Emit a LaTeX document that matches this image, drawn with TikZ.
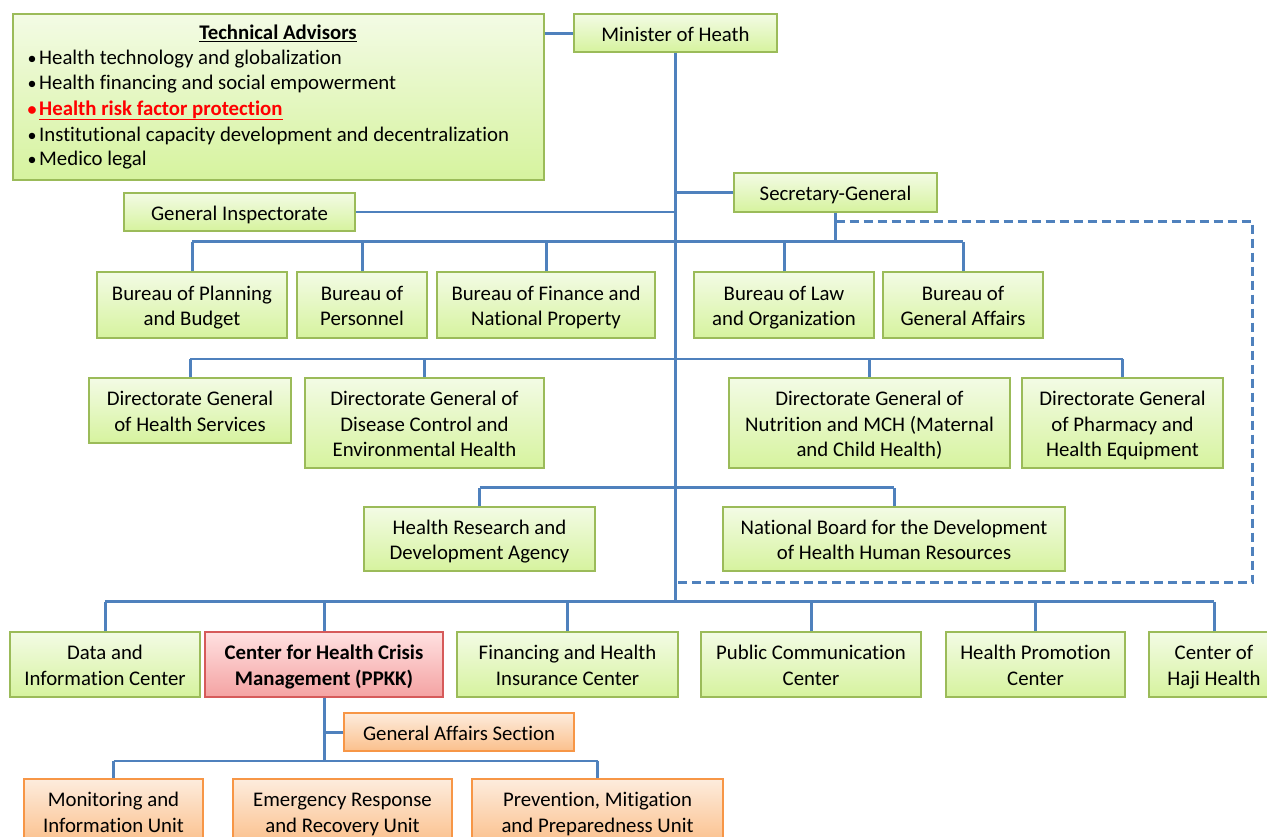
\documentclass[tikz,border=0pt]{standalone}
\usepackage{fontspec}
\setmainfont[Ligatures=NoCommon]{Carlito}
\definecolor{ln}{HTML}{4F81BD}
\definecolor{gbd}{HTML}{9BBB59}
\definecolor{gtop}{HTML}{F3FBE5}
\definecolor{gbot}{HTML}{D6F39E}
\definecolor{rbd}{HTML}{D65A5A}
\definecolor{rtop}{HTML}{FFE1E1}
\definecolor{rbot}{HTML}{F4A2A2}
\definecolor{obd}{HTML}{F79646}
\definecolor{otop}{HTML}{FDECDD}
\definecolor{obot}{HTML}{FBC08C}
\definecolor{advred}{HTML}{FF0000}
\newcommand\boxtext[1]{\raisebox{-3pt}[\height][\depth]{\begin{tabular}{@{}c@{}}#1\end{tabular}}}
\tikzset{
  basebox/.style={draw, line width=1.3pt, inner sep=0pt, text=black,
    font=\fontsize{20.8}{25.4}\selectfont},
  gbox/.style={basebox, draw=gbd, top color=gtop, bottom color=gbot},
  rbox/.style={basebox, draw=rbd, top color=rtop, bottom color=rbot,
    font=\fontsize{20.8}{25.4}\selectfont\bfseries},
  obox/.style={basebox, draw=obd, top color=otop, bottom color=obot},
  trunk/.style={draw=ln, line width=3pt},
  bar/.style={draw=ln, line width=2.6pt},
  dline/.style={draw=ln, line width=2.4pt, dash pattern=on 9pt off 5pt},
  advtext/.style={inner sep=0pt, anchor=base west, text=black,
    font=\fontsize{20.8}{25.4}\selectfont},
}
\newcommand\boxat[7]{\node[#1, minimum width={(#5-#3)*1pt}, minimum height={(#6-#4)*1pt}] (#2) at ({(#3+#5)/2},{(#4+#6)/2}) {\boxtext{#7}};}
\newcommand\bul{\makebox[12pt][l]{\hspace{0.5pt}{\fontsize{18}{20}\selectfont\textbullet}}}
\begin{document}
\begin{tikzpicture}[x=1pt,y=-1pt]
\clip (0,0) rectangle (1267,836);
\fill[white] (0,0) rectangle (1267,836);
% boxes
\node[gbox, minimum width=531pt, minimum height=166pt] (adv) at (278.5,97) {};
\node[advtext, anchor=base, font=\fontsize{20.8}{25.4}\selectfont\bfseries] (advt) at (278,39.5) {\underline{Technical Advisors}};
\node[advtext] (adv1) at (27,64) {\bul Health technology and globalization};
\node[advtext] (adv2) at (27,89) {\bul Health financing and social empowerment};
\node[advtext, text=advred, font=\fontsize{20.8}{25.4}\selectfont\bfseries] (adv3) at (27,115) {\bul \underline{Health risk factor protection}};
\node[advtext] (adv4) at (27,141) {\bul Institutional capacity development and decentralization};
\node[advtext] (adv5) at (27,165.5) {\bul Medico legal};
\boxat{gbox}{minister}{574}{14}{777}{52}{Minister of Heath}
\boxat{gbox}{sg}{734}{173}{937}{212}{Secretary-General}
\boxat{gbox}{gi}{124}{193}{355}{231}{General Inspectorate}
\boxat{gbox}{b1}{97}{272}{287}{338}{Bureau of Planning\\and Budget}
\boxat{gbox}{b2}{297}{272}{427}{338}{Bureau of\\Personnel}
\boxat{gbox}{b3}{437}{272}{655}{338}{Bureau of Finance and\\National Property}
\boxat{gbox}{b4}{694}{272}{874}{338}{Bureau of Law\\and Organization}
\boxat{gbox}{b5}{883}{272}{1043}{338}{Bureau of\\General Affairs}
\boxat{gbox}{d1}{89}{378}{291}{443}{Directorate General\\of Health Services}
\boxat{gbox}{d2}{305}{378}{544}{468}{Directorate General of\\Disease Control and\\Environmental Health}
\boxat{gbox}{d3}{729}{378}{1010}{468}{Directorate General of\\Nutrition and MCH (Maternal\\and Child Health)}
\boxat{gbox}{d4}{1022}{378}{1223}{468}{Directorate General\\of Pharmacy and\\Health Equipment}
\boxat{gbox}{a1}{364}{507}{595}{571}{Health Research and\\Development Agency}
\boxat{gbox}{a2}{723}{507}{1065}{571}{National Board for the Development\\of Health Human Resources}
\boxat{gbox}{c1}{10}{632}{200}{697}{Data and\\Information Center}
\boxat{rbox}{c2}{205}{632}{443}{697}{Center for Health Crisis\\Management (PPKK)}
\boxat{gbox}{c3}{457}{632}{678}{697}{Financing and Health\\Insurance Center}
\boxat{gbox}{c4}{701}{632}{921}{697}{Public Communication\\Center}
\boxat{gbox}{c5}{946}{632}{1125}{697}{Health Promotion\\Center}
\boxat{gbox}{c6}{1149}{632}{1279}{697}{Center of\\Haji Health}
\boxat{obox}{gas}{344}{713}{574}{751}{General Affairs Section}
\boxat{obox}{u1}{24}{779}{203}{844}{Monitoring and\\Information Unit}
\boxat{obox}{u2}{233}{779}{452}{844}{Emergency Response\\and Recovery Unit}
\boxat{obox}{u3}{472}{779}{723}{844}{Prevention, Mitigation\\and Preparedness Unit}
% bar coordinates
\coordinate (bbar) at (0,241.7);
\coordinate (dbar) at (0,359);
\coordinate (abar) at (0,487.5);
\coordinate (cbar) at (0,601.7);
\coordinate (ubar) at (0,761);
\coordinate (dA) at (1252.5,221.5);
\coordinate (dB) at (1252.5,582.5);
% connectors
\draw[trunk] (adv.east |- minister.west) -- (minister.west);
\draw[trunk] (minister.south) -- (minister.south |- cbar);
\draw[trunk] (sg.west) -- (sg.west -| minister.south);
\draw[bar] (gi.east) -- (gi.east -| minister.south);
\draw[trunk] (sg.south) -- (sg.south |- bbar);
\draw[dline] (sg.south |- dA) -- (dA) -- (dB) -- (minister.south |- dB);
\draw[bar] (b1.north |- bbar) -- (b5.north |- bbar);
\foreach \n in {b1,b2,b3,b4,b5}{\draw[trunk] (\n.north) -- (\n.north |- bbar);}
\draw[bar] (d1.north |- dbar) -- (d4.north |- dbar);
\foreach \n in {d1,d2,d3,d4}{\draw[trunk] (\n.north) -- (\n.north |- dbar);}
\draw[bar] (a1.north |- abar) -- (a2.north |- abar);
\foreach \n in {a1,a2}{\draw[trunk] (\n.north) -- (\n.north |- abar);}
\draw[bar] (c1.north |- cbar) -- (c6.north |- cbar);
\foreach \n in {c1,c2,c3,c4,c5,c6}{\draw[trunk] (\n.north) -- (\n.north |- cbar);}
\draw[trunk] (c2.south) -- (c2.south |- ubar);
\draw[trunk] (gas.west) -- (gas.west -| c2.south);
\draw[bar] (u1.north |- ubar) -- (u3.north |- ubar);
\foreach \n in {u1,u3}{\draw[trunk] (\n.north) -- (\n.north |- ubar);}
\end{tikzpicture}
\end{document}
